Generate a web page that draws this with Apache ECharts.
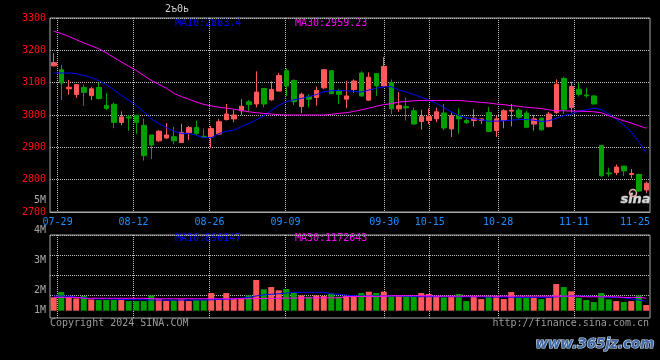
<!DOCTYPE html>
<html><head><meta charset="utf-8">
<script src="https://cdn.jsdelivr.net/npm/echarts@6/dist/echarts.min.js"></script>
<style>html,body{margin:0;padding:0;background:#000;}#c{width:660px;height:360px;}</style>
</head><body><div id="c"></div>
<script>
const dates = ['07-26','07-29','07-30','07-31','08-01','08-02','08-05','08-06','08-07','08-08','08-09',
'08-12','08-13','08-14','08-15','08-16','08-19','08-20','08-21','08-22','08-23',
'08-26','08-27','08-28','08-29','08-30','09-02','09-03','09-04','09-05','09-06',
'09-09','09-10','09-11','09-12','09-13','09-18','09-19','09-20','09-23','09-24','09-25','09-26','09-27',
'09-30','10-08','10-09','10-10','10-11','10-14','10-15','10-16','10-17','10-18',
'10-21','10-22','10-23','10-24','10-25','10-28','10-29','10-30','10-31','11-01',
'11-04','11-05','11-06','11-07','11-08','11-11','11-12','11-13','11-14','11-15',
'11-18','11-19','11-20','11-21','11-22','11-25'];
const opens  = [3152,3140,3081,3063,3085,3060,3085,3030,3033,2977,2994,2999,2968,2938,2920,2929,2933,2915,2945,2961,2934,2932,2941,2986,2988,3013,3041,3034,3082,3047,3074,3137,3107,3026,3057,3054,3084,3137,3076,3049,3079,3130,3046,3128,3090,3100,3019,3026,3013,2980,2983,2988,3006,2957,2998,2983,2983,2983,3008,2952,2983,3012,3015,3006,2972,2990,2964,3008,3113,3023,3080,3062,3059,2906,2821,2822,2842,2816,2816,2768];
const closes = [3162,3099,3086,3094,3070,3081,3051,3020,2977,2994,2991,2977,2874,2907,2950,2938,2920,2946,2961,2943,2931,2958,2979,3003,3000,3027,3032,3071,3034,3079,3122,3090,3041,3064,3049,3076,3140,3066,3064,3059,3105,3059,3117,3090,3150,3019,3029,3022,2972,2995,2995,3010,2960,2998,2988,2976,2990,2988,2949,2988,3013,3015,2993,2962,2988,2954,3003,3095,3016,3088,3064,3059,3034,2812,2818,2839,2827,2819,2765,2789];
const lows   = [3150,3046,3063,3053,3028,3046,3048,3015,2959,2968,2951,2941,2859,2864,2917,2926,2909,2915,2922,2938,2930,2899,2938,2983,2978,3000,3010,3024,3024,3044,3074,3059,3031,3006,3024,3029,3081,3064,3034,3021,3069,3057,3044,3059,3088,3003,3010,2983,2969,2955,2972,2978,2952,2932,2942,2972,2965,2972,2947,2932,2959,2965,2988,2959,2952,2952,2962,3003,3003,3008,3057,3054,3034,2809,2809,2814,2811,2804,2763,2758];
const highs  = [3191,3155,3109,3096,3094,3087,3099,3068,3038,3011,2999,3000,2989,2938,2953,2975,2963,2973,2966,2983,2958,2966,2988,3034,3016,3049,3046,3135,3082,3104,3130,3145,3110,3069,3064,3088,3142,3137,3081,3105,3110,3135,3132,3130,3179,3110,3071,3054,3023,3016,3020,3023,3034,3008,3020,2990,3018,2990,3025,2998,3018,3034,3021,3013,3000,2993,3010,3110,3118,3103,3100,3085,3061,2908,2837,2847,2842,2833,2819,2794];
const ma10 = [3130,3130,3130,3128,3122,3116,3106,3094,3078,3061,3046,3030,3010,2988,2974,2961,2950,2943,2943,2937,2930,2930,2942,2950,2953,2964,2974,2985,2998,3014,3030,3041,3047,3051,3057,3063,3072,3075,3076,3075,3073,3071,3077,3083,3087,3088,3077,3071,3063,3055,3046,3036,3023,3010,2998,2991,2988,2985,2981,2981,2982,2984,2986,2986,2984,2980,2982,2990,2998,3003,3011,3016,3021,3017,3003,2987,2969,2947,2918,2883];
const ma30 = [3259,3252,3243,3233,3223,3214,3205,3192,3178,3164,3151,3138,3122,3107,3095,3083,3067,3057,3049,3040,3033,3028,3024,3021,3018,3014,3010,3007,3005,3003,3001,3000,3000,3000,3000,3000,3000,3002,3005,3007,3011,3016,3021,3027,3032,3035,3040,3042,3044,3045,3045,3045,3045,3045,3045,3043,3041,3039,3037,3034,3032,3029,3027,3024,3022,3020,3016,3013,3013,3012,3012,3011,3010,3007,2998,2990,2982,2975,2967,2959];
const volumes = [1250000,1750000,1250000,1150000,1370000,1060000,1000000,1000000,1000000,1060000,900000,900000,900000,1430000,1090000,930000,1000000,1060000,900000,1000000,1000000,1650000,1090000,1650000,1120000,1120000,1430000,2870000,2000000,2210000,1900000,2030000,1680000,1430000,1310000,1430000,1370000,1620000,1310000,1370000,1370000,1650000,1780000,1650000,1780000,1370000,1370000,1370000,1310000,1650000,1560000,1370000,1250000,1310000,1560000,900000,1370000,1090000,1370000,1370000,1090000,1740000,1250000,1250000,1250000,1090000,1250000,2490000,2210000,1810000,1210000,1000000,810000,1650000,1060000,900000,810000,900000,1430000,530000];
const volMa10 = [1370000,1370000,1360000,1250000,1200000,1120000,1100000,1100000,1080000,1060000,1040000,1020000,1020000,1000000,1000000,990000,980000,990000,1000000,1000000,1000000,1020000,1050000,1080000,1100000,1180000,1250000,1380000,1480000,1540000,1580000,1650000,1720000,1720000,1720000,1720000,1720000,1580000,1540000,1450000,1400000,1370000,1370000,1370000,1370000,1370000,1360000,1350000,1330000,1310000,1310000,1310000,1310000,1310000,1310000,1310000,1300000,1290000,1280000,1270000,1270000,1260000,1250000,1250000,1250000,1250000,1250000,1300000,1350000,1370000,1370000,1360000,1330000,1300000,1250000,1250000,1200000,1100000,1000000,890147];
const volMa30 = [1250000,1250000,1250000,1250000,1160000,1160000,1160000,1160000,1160000,1160000,1160000,1160000,1160000,1120000,1120000,1120000,1120000,1120000,1120000,1120000,1120000,1120000,1120000,1120000,1120000,1120000,1120000,1130000,1140000,1150000,1160000,1170000,1180000,1190000,1200000,1200000,1200000,1200000,1200000,1330000,1330000,1330000,1330000,1330000,1330000,1400000,1400000,1400000,1400000,1400000,1400000,1360000,1360000,1360000,1360000,1360000,1360000,1360000,1360000,1360000,1360000,1360000,1360000,1360000,1360000,1360000,1360000,1360000,1360000,1360000,1360000,1300000,1300000,1300000,1300000,1300000,1240000,1240000,1240000,1172643];
const dateLabels = ['07-29','08-12','08-26','09-09','09-30','10-15','10-28','11-11','11-25'];
const priceMin = 2700, priceMax = 3300, priceStep = 100;
const volTickLabels = ['5M','4M','3M','2M','1M'];
const titleText = '2ъ0ь';
const priceMaTexts = ['MA10:2883.4', 'MA30:2959.23'];
const volMaTexts = ['MA10:890147', 'MA30:1172643'];

const labelIdx = dateLabels.map(d => dates.indexOf(d));
const gridIdx = labelIdx.slice(0, -1);
const UP = '#ff5a5a', DOWN = '#00a000', GRID = '#bdbdbd', BORDER = '#a8a8a8';
const MONO = 'DejaVu Sans Mono';

const chart = echarts.init(document.getElementById('c'), null, {renderer: 'canvas'});
const candleData = opens.map((o, i) => [o, closes[i], lows[i], highs[i]]);
const volData = volumes.map((v, i) => ({value: v, itemStyle: {color: closes[i] >= opens[i] ? UP : DOWN}}));

const volLabelY = [200, 230.7, 260.7, 290.7, 310.3];
const graphic = [
  {type: 'text', left: 165, top: 4, style: {text: titleText, fill: '#d0d0d0', font: '10px ' + MONO}},
  {type: 'text', left: 175, top: 18, style: {text: priceMaTexts[0], fill: '#0000ff', font: '10px ' + MONO}},
  {type: 'text', left: 295, top: 18, style: {text: priceMaTexts[1], fill: '#ff00ff', font: '10px ' + MONO}},
  {type: 'text', left: 175, top: 233, style: {text: volMaTexts[0], fill: '#0000ff', font: '10px ' + MONO}},
  {type: 'text', left: 295, top: 233, style: {text: volMaTexts[1], fill: '#ff00ff', font: '10px ' + MONO}},
  {type: 'text', left: 50, top: 318, style: {text: 'Copyright 2024 SINA.COM', fill: '#9a9a9a', font: '10px ' + MONO}},
  {type: 'text', right: 11, top: 318, style: {text: 'http://finance.sina.com.cn', fill: '#9a9a9a', font: '10px ' + MONO}},
  {type: 'text', left: 535, top: 337, style: {text: 'www.365jz.com', fill: '#3f6aa6', stroke: '#d8e2f2', lineWidth: 1.2, font: 'italic bold 13.5px "DejaVu Sans"'}},
  {type: 'text', left: 620, top: 193, style: {text: 'sina', fill: '#d8d8d8', stroke: '#7a7a7a', lineWidth: 0.8, font: 'italic bold 13px "DejaVu Sans"'}},
  {type: 'circle', shape: {cx: 633, cy: 193, r: 3.5}, style: {fill: 'none', stroke: '#f0a8a8', lineWidth: 1.5}}
];
volTickLabels.forEach((t, i) => {
  graphic.push({type: 'text', x: 46, y: volLabelY[i], style: {text: t, fill: '#a8a8a8', font: '10px ' + MONO, align: 'right', verticalAlign: 'middle'}});
});

chart.setOption({
  backgroundColor: '#000',
  animation: false,
  grid: [
    {left: 50, right: 10, top: 18, height: 194, show: true, borderColor: BORDER, borderWidth: 1, backgroundColor: 'transparent'},
    {left: 50, right: 10, top: 235, height: 83, show: true, borderColor: BORDER, borderWidth: 1, backgroundColor: 'transparent'},
    {left: 50, right: 10, top: 235, height: 60, show: false}
  ],
  xAxis: [
    {gridIndex: 0, type: 'category', data: dates, boundaryGap: true, show: false},
    {gridIndex: 0, type: 'category', data: dates, boundaryGap: false, position: 'bottom',
      axisLine: {show: true, lineStyle: {color: BORDER}}, axisTick: {show: false},
      axisLabel: {interval: (i) => labelIdx.includes(i), color: '#1e8fff', fontFamily: MONO, fontSize: 10, margin: 5, alignMaxLabel: 'right', showMaxLabel: true},
      splitLine: {show: true, interval: (i) => gridIdx.includes(i), lineStyle: {color: GRID, type: 'dotted', width: 1}}},
    {gridIndex: 1, type: 'category', data: dates, boundaryGap: true, show: false},
    {gridIndex: 1, type: 'category', data: dates, boundaryGap: false,
      axisLine: {show: false}, axisTick: {show: false}, axisLabel: {show: false},
      splitLine: {show: true, interval: (i) => gridIdx.includes(i), lineStyle: {color: GRID, type: 'dotted', width: 1}}},
    {gridIndex: 2, type: 'category', data: dates, show: false}
  ],
  yAxis: [
    {gridIndex: 0, type: 'value', min: priceMin, max: priceMax, interval: priceStep,
      axisLine: {show: false}, axisTick: {show: false},
      axisLabel: {color: '#ff1010', fontFamily: MONO, fontSize: 10, margin: 4, formatter: (v) => String(v)},
      splitLine: {show: true, lineStyle: {color: GRID, type: 'dotted', width: 1}}},
    {gridIndex: 1, type: 'value', min: -680000, max: 7070000, show: false, splitLine: {show: false}},
    {gridIndex: 2, type: 'value', min: 0, max: 3, interval: 1,
      axisLine: {show: false}, axisTick: {show: false}, axisLabel: {show: false},
      splitLine: {show: true, lineStyle: {color: GRID, type: 'dotted', width: 1}}}
  ],
  series: [
    {type: 'candlestick', xAxisIndex: 0, yAxisIndex: 0, data: candleData, barWidth: 5,
      itemStyle: {color: UP, color0: DOWN, borderColor: UP, borderColor0: DOWN, borderWidth: 1}},
    {type: 'line', xAxisIndex: 0, yAxisIndex: 0, data: ma10, symbol: 'none', lineStyle: {color: '#0000ff', width: 1}},
    {type: 'line', xAxisIndex: 0, yAxisIndex: 0, data: ma30, symbol: 'none', lineStyle: {color: '#ff00ff', width: 1}},
    {type: 'bar', xAxisIndex: 2, yAxisIndex: 1, data: volData, barWidth: 6},
    {type: 'line', xAxisIndex: 2, yAxisIndex: 1, data: volMa10, symbol: 'none', lineStyle: {color: '#0000ff', width: 1}},
    {type: 'line', xAxisIndex: 2, yAxisIndex: 1, data: volMa30, symbol: 'none', lineStyle: {color: '#ff00ff', width: 1}}
  ],
  graphic: graphic
});
</script></body></html>
